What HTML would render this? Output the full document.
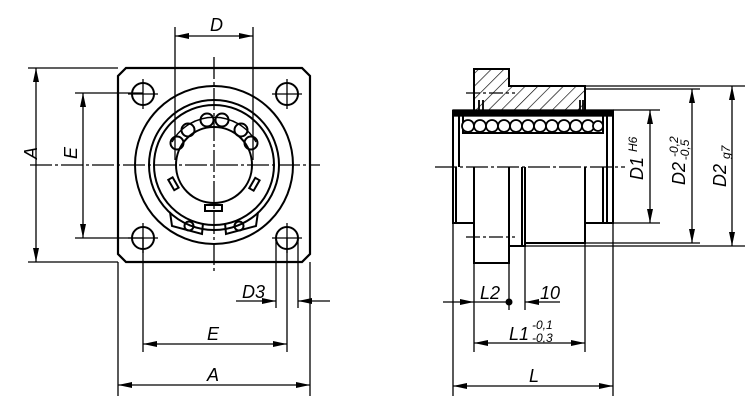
<!DOCTYPE html>
<html><head><style>html,body{margin:0;padding:0;background:#fff}svg{display:block}
text{font-family:"Liberation Sans",sans-serif;font-style:italic;font-size:18px;fill:#000}</style></head>
<body>
<svg width="750" height="406" viewBox="0 0 750 406" xmlns="http://www.w3.org/2000/svg">
<defs>
<marker id="ar" viewBox="0 0 14 6" refX="14" refY="3" markerWidth="14" markerHeight="6" orient="auto-start-reverse" markerUnits="userSpaceOnUse"><path d="M0,0L14,3L0,6z" fill="#000"/></marker>
<pattern id="h" width="9" height="9" patternUnits="userSpaceOnUse" patternTransform="rotate(45)"><line x1="0" y1="0" x2="0" y2="9" stroke="#000" stroke-width="1.3"/></pattern>
</defs>
<g fill="none" stroke="#000" stroke-width="1.3">
<!-- LEFT VIEW -->
<path d="M126,68H302L310,76V254L302,262H126L118,254V76Z" stroke-width="2.2"/>
<g stroke-width="2">
<circle cx="143" cy="94" r="11"/><circle cx="287" cy="94" r="11"/>
<circle cx="143" cy="238" r="11"/><circle cx="287" cy="238" r="11"/>
<circle cx="214" cy="165" r="79"/>
<circle cx="214" cy="165" r="65"/>
<circle cx="214" cy="165" r="60"/>
<circle cx="214" cy="165" r="38"/>
<path d="M172,142 A48,48 0 0 1 256,142" stroke-width="1.4"/>
<circle cx="177" cy="143" r="6.5"/><circle cx="188" cy="130" r="6.5"/><circle cx="207" cy="120" r="6.5"/>
<circle cx="222" cy="120" r="6.5"/><circle cx="241" cy="130" r="6.5"/><circle cx="251" cy="143" r="6.5"/>
<path d="M170,212 L172,226 L202,234 L203,223 M258,212 L256,226 L226,234 L225,223"/>
<circle cx="189" cy="226" r="4.5"/><circle cx="239" cy="226" r="4.5"/>
<rect x="205" y="205" width="17" height="6"/>
<rect x="171" y="178" width="5" height="12" transform="rotate(-30 173 184)"/>
<rect x="252" y="178" width="5" height="12" transform="rotate(30 254 184)"/>
</g>
<line x1="30" y1="165" x2="320" y2="165" stroke-dasharray="22,3,3,3"/>
<line x1="214" y1="57" x2="214" y2="272" stroke-dasharray="22,3,3,3"/>
<path d="M128,94H158M272,94H302M143,79V109M287,79V109M128,238H158M272,238H302M143,223V253M287,223V253"/>
<!-- dims left -->
<path d="M175,27V160M253,27V160"/>
<line x1="175" y1="36" x2="253" y2="36" marker-start="url(#ar)" marker-end="url(#ar)"/>
<path d="M28,68H118M28,262H118M75,93H143M75,238H143"/>
<line x1="36" y1="68" x2="36" y2="262" marker-start="url(#ar)" marker-end="url(#ar)"/>
<line x1="83" y1="93" x2="83" y2="238" marker-start="url(#ar)" marker-end="url(#ar)"/>
<path d="M118,262V396M310,262V396M143,238V352M287,238V352M276,238V308M298,238V308"/>
<line x1="236" y1="301" x2="276" y2="301" marker-end="url(#ar)"/>
<line x1="330" y1="301" x2="298" y2="301" marker-end="url(#ar)"/>
<line x1="143" y1="344" x2="287" y2="344" marker-start="url(#ar)" marker-end="url(#ar)"/>
<line x1="118" y1="385" x2="310" y2="385" marker-start="url(#ar)" marker-end="url(#ar)"/>
<!-- RIGHT VIEW -->
<path d="M474,69H509V86H585V112H474Z" fill="url(#h)" stroke-width="2"/>
<rect x="453" y="110" width="160" height="6" fill="#000"/>
<path d="M453,110V167M613,110V167M459,116V167M607,116V167M463,116V133H603V116" stroke-width="2"/>
<g fill="#fff" stroke-width="1.8">
<circle cx="468" cy="126" r="6"/><circle cx="480" cy="126" r="6"/><circle cx="492" cy="126" r="6"/><circle cx="504" cy="126" r="6"/><circle cx="516" cy="126" r="6"/><circle cx="528" cy="126" r="6"/><circle cx="540" cy="126" r="6"/><circle cx="552" cy="126" r="6"/><circle cx="564" cy="126" r="6"/><circle cx="576" cy="126" r="6"/><circle cx="588" cy="126" r="6"/><circle cx="598" cy="126" r="5"/>
</g>
<path d="M479,100V112M483,100V112M583,100V112M580,100V112" stroke-width="1.8"/>
<g stroke-width="2">
<path d="M453,167V223H474M456,167V223"/>
<path d="M474,167V263H509V167"/>
<path d="M509,246H525V167M525,243H585V167M522,167V246"/>
<path d="M585,223H613V167M603,167V223M607,167V223"/>
</g>
<line x1="435" y1="167" x2="625" y2="167" stroke-dasharray="22,3,3,3"/>
<line x1="466" y1="237" x2="515" y2="237" stroke-dasharray="14,3,3,3"/>
<line x1="466" y1="93" x2="515" y2="93" stroke-dasharray="14,3,3,3"/>
<path d="M509,86H745M585,89H700M613,110H660M603,223H660M585,243H700M525,246H745"/>
<line x1="650" y1="110" x2="650" y2="223" marker-start="url(#ar)" marker-end="url(#ar)"/>
<line x1="692" y1="89" x2="692" y2="243" marker-start="url(#ar)" marker-end="url(#ar)"/>
<line x1="732" y1="86" x2="732" y2="246" marker-start="url(#ar)" marker-end="url(#ar)"/>
<path d="M453,223V396M613,223V396M474,263V352M585,243V352M509,263V310M525,246V310"/>
<line x1="443" y1="302" x2="474" y2="302" marker-end="url(#ar)"/>
<line x1="474" y1="302" x2="509" y2="302"/>
<line x1="560" y1="302" x2="525" y2="302" marker-end="url(#ar)"/>
<line x1="474" y1="343" x2="585" y2="343" marker-start="url(#ar)" marker-end="url(#ar)"/>
<line x1="453" y1="386" x2="613" y2="386" marker-start="url(#ar)" marker-end="url(#ar)"/>
</g>
<circle cx="509" cy="302" r="3.5" fill="#000"/>
<text x="210" y="31">D</text>
<text x="38" y="170" transform="rotate(-90 32 165)">A</text>
<text x="78" y="170" transform="rotate(-90 72 165)">E</text>
<text x="242" y="298">D3</text>
<text x="207" y="340">E</text>
<text x="207" y="381">A</text>
<text x="480" y="299">L2</text>
<text x="540" y="299">10</text>
<text x="509" y="340">L1</text>
<text x="532" y="329" style="font-size:12px">-0,1</text>
<text x="532" y="342" style="font-size:12px">-0,3</text>
<text x="529" y="382">L</text>
<text transform="translate(643,180) rotate(-90)">D1 <tspan style="font-size:12px" dy="-6">H6</tspan></text>
<text transform="translate(685,185) rotate(-90)">D2 <tspan style="font-size:12px" dy="-7">-0,2</tspan><tspan style="font-size:12px" dx="-24" dy="11">-0,5</tspan></text>
<text transform="translate(726,187) rotate(-90)">D2 <tspan style="font-size:12px" dy="4">g7</tspan></text>
</svg>
</body></html>
